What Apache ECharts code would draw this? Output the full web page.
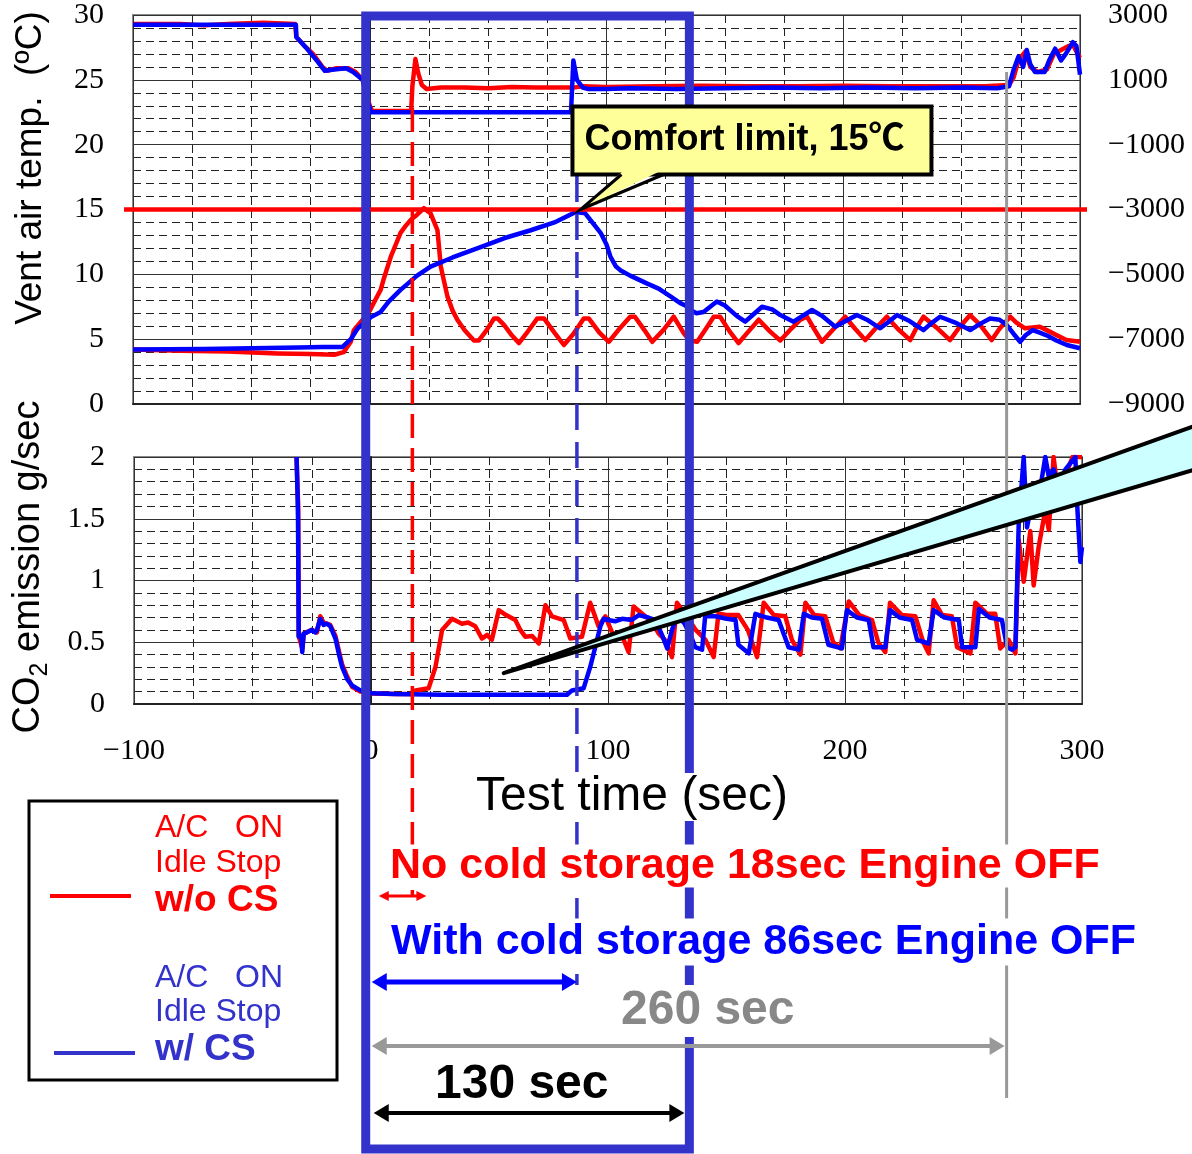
<!DOCTYPE html>
<html><head><meta charset="utf-8">
<script src="https://cdn.jsdelivr.net/npm/echarts@6/dist/echarts.min.js"></script>
<style>html,body{margin:0;padding:0;background:#fff}#c{width:1192px;height:1154px}</style>
</head><body><div id="c"></div>
<script>
// ---------- data (time sec, value) ----------
const tempAxisTicks = [0, 5, 10, 15, 20, 25, 30];
const rightAxisTicks = [-9000, -7000, -5000, -3000, -1000, 1000, 3000];
const co2AxisTicks = [0, 0.5, 1, 1.5, 2];
const timeTicks = [-100, 0, 100, 200, 300];

const upperRed = [[-100,29.3],[-80,29.3],[-70,29.2],[-60,29.3],[-45,29.4],[-31.5,29.3],[-31,28.3],[-28,27.7],[-24,27.0],[-20,26.0],[-18,25.7],[-14,25.9],[-9,25.9],[-6,25.6],[-3,25.0],[-1.5,24.0],[0,23.0],[1,22.6],[17.5,22.6],[18,24.5],[19.3,26.6],[20.5,25.5],[22,24.6],[24,24.3],[30,24.4],[40,24.4],[50,24.35],[60,24.45],[70,24.4],[86,24.4],[90,24.5],[100,24.45],[120,24.5],[140,24.55],[160,24.5],[180,24.5],[200,24.55],[220,24.5],[240,24.5],[260,24.5],[270,24.6],[272,25.2],[274,26.5],[277,27.2],[279,26.0],[282,25.6],[286,25.8],[289,27.0],[292,27.3],[295,27.6],[297,27.7],[299,27.0],[300,26.7]];
const upperBlue = [[-100,29.25],[-31.2,29.25],[-31,28.3],[-27,27.5],[-22,26.4],[-19,25.7],[-15,25.8],[-10,25.9],[-7,25.6],[-3,25.0],[-1,23.5],[0.5,22.5],[85,22.5],[85.5,24.5],[86,26.5],[87.5,25.0],[90,24.4],[92,24.3],[100,24.3],[110,24.35],[130,24.3],[150,24.35],[170,24.4],[190,24.35],[210,24.4],[230,24.35],[250,24.4],[265,24.35],[270,24.5],[272,25.8],[274,26.8],[276,26.0],[277.5,27.3],[279,26.2],[281,25.6],[285,25.6],[287,26.5],[289.5,27.4],[292,26.5],[294,27.0],[297,27.9],[298.5,27.6],[300,25.4]];
const ventBlue = [[-100,4.2],[-70,4.25],[-50,4.3],[-30,4.35],[-20,4.4],[-11.5,4.4],[-8,5.0],[-5,5.85],[-2,6.3],[0.5,6.7],[4.6,7.1],[8,7.9],[13,8.8],[20,9.9],[25.7,10.6],[35,11.3],[46.8,12.1],[57,12.8],[68,13.4],[78,14.0],[87,14.8],[91,14.7],[94,14.0],[97.5,13.2],[100,12.3],[101.7,11.35],[104,10.6],[106,10.3],[110,9.9],[117,9.3],[122,8.9],[127,8.3],[131,7.8],[133.3,7.6],[136,7.2],[138,7.0],[141,7.1],[146.6,7.9],[150,7.6],[155,6.8],[158.6,6.35],[162,6.9],[165.7,7.5],[170,7.3],[173.4,6.86],[179,6.35],[182,6.7],[186.8,7.25],[191,6.8],[196.6,5.96],[201,6.4],[205.8,6.86],[210,6.5],[215.6,5.84],[219,6.3],[222.7,6.86],[228,6.4],[233.9,5.7],[237,6.2],[240.9,6.73],[247,6.3],[253.6,5.7],[258,6.2],[262,6.6],[266,6.5],[269,6.1],[272,5.4],[274.7,4.8],[277,5.3],[280,5.7],[283,5.5],[285.9,5.3],[290,4.9],[294.4,4.55],[300,4.3]];
const ventRed = [[-100,4.2],[-80,4.1],[-60,4.05],[-38.9,3.9],[-25,3.85],[-15,3.8],[-11,4.0],[-8,4.8],[-6.7,5.7],[-3,6.5],[0,7.2],[2,7.9],[4.6,8.8],[6,9.7],[8.9,11.36],[11,12.3],[13,13.2],[15,13.7],[17.3,14.2],[20,14.6],[22.9,15.1],[25.7,14.7],[28.6,13.4],[30,10.6],[32.8,8.3],[35,7.2],[37,6.5],[40,5.7],[44,4.9],[46.1,4.9],[49,5.6],[52.5,6.6],[54,6.6],[56.7,6.1],[60,5.3],[63,4.7],[66,5.4],[70.8,6.6],[73.6,6.6],[78,5.5],[82,4.55],[86,5.4],[90.4,6.6],[92.5,6.6],[97,5.5],[101,4.8],[105,5.7],[110,6.73],[112,6.73],[116,5.7],[119.3,4.8],[124,5.7],[128.4,6.73],[132.6,5.47],[135,4.9],[138.3,4.8],[142,5.8],[145.3,6.73],[148,6.73],[152,5.6],[155.8,4.7],[160,5.6],[164.3,6.5],[169,5.6],[173.4,4.9],[178,5.8],[181.9,6.5],[184.7,6.73],[188,5.7],[191,4.8],[196,5.8],[200.8,6.73],[205,5.8],[209.3,4.93],[214,5.9],[218.4,6.73],[223,5.8],[228.3,4.93],[231,5.9],[233.9,6.73],[240,5.8],[245.1,4.93],[249,5.9],[253.6,6.86],[257.8,6.1],[262.7,4.93],[266,5.8],[270.5,6.73],[273,6.3],[276.8,5.84],[280,5.9],[283,5.96],[287,5.6],[290,5.32],[294.3,4.93],[300,4.8]];
const co2Blue = [[-31.4,2.0],[-31,1.7],[-30.8,1.5],[-30.5,0.545],[-29.5,0.55],[-29,0.42],[-28.4,0.57],[-27,0.58],[-25,0.6],[-23.5,0.58],[-22.8,0.6],[-21.4,0.69],[-20,0.64],[-18.5,0.65],[-17.2,0.63],[-15,0.53],[-13.5,0.4],[-12.2,0.3],[-10,0.2],[-8,0.15],[-4.5,0.11],[0.4,0.087],[10,0.08],[30,0.075],[50,0.075],[70,0.075],[82.7,0.075],[84.8,0.11],[89.7,0.127],[92.5,0.30],[94.6,0.46],[96.8,0.63],[98.2,0.69],[100,0.68],[103,0.67],[106,0.69],[110,0.68],[113,0.72],[117,0.70],[120,0.68],[123,0.55],[125,0.45],[127,0.6],[129,0.7],[132,0.66],[135,0.55],[136.8,0.46],[139.7,0.44],[141,0.71],[145.3,0.71],[150,0.69],[153.8,0.68],[155,0.48],[159.4,0.41],[162.2,0.73],[167,0.7],[172,0.68],[176.2,0.46],[180.5,0.44],[182.6,0.73],[186,0.7],[190.3,0.69],[193,0.48],[198.7,0.45],[200.8,0.76],[205,0.7],[210,0.68],[212,0.46],[217,0.46],[219,0.76],[223,0.7],[228.3,0.68],[230.4,0.52],[235.3,0.49],[237.4,0.76],[242,0.7],[248,0.68],[249.4,0.46],[255,0.46],[256.5,0.77],[261,0.7],[266.2,0.68],[268.4,0.46],[270.5,0.44],[271.9,0.46],[273.3,1.46],[275.4,2.0],[276.8,1.43],[278.5,1.6],[280.3,1.57],[282,1.7],[284.5,2.0],[286,1.84],[288,1.9],[290,1.76],[293,1.9],[297.2,2.0],[298,1.6],[299.3,1.15],[300,1.27]];
const co2Red = [[-31.4,2.0],[-31,1.75],[-30.7,1.6],[-30.5,0.55],[-29,0.45],[-28.4,0.57],[-25,0.6],[-22.8,0.58],[-21.4,0.71],[-20,0.66],[-17.2,0.64],[-15,0.55],[-12.2,0.32],[-10,0.22],[-8,0.14],[-4.5,0.1],[0.4,0.085],[10,0.08],[18,0.08],[18.7,0.11],[24.3,0.127],[27.2,0.30],[30,0.6],[34.2,0.69],[38.4,0.65],[41,0.66],[44,0.63],[46.8,0.53],[49,0.56],[51,0.52],[53.9,0.76],[57,0.72],[60.9,0.68],[63,0.6],[65.1,0.545],[68,0.55],[70.8,0.49],[73.6,0.80],[76.4,0.71],[81.3,0.68],[84.1,0.53],[89,0.545],[92.5,0.82],[96,0.63],[98.9,0.71],[103,0.52],[106,0.55],[108.7,0.42],[110.8,0.79],[115.7,0.71],[118,0.68],[121.4,0.57],[124,0.52],[127,0.38],[129.1,0.82],[132.6,0.73],[137,0.6],[141.1,0.52],[144.6,0.38],[146.6,0.73],[150,0.72],[155,0.72],[159,0.6],[162.9,0.38],[165.7,0.82],[170,0.72],[174.8,0.71],[177.6,0.52],[181.2,0.40],[183.3,0.82],[187,0.72],[191.7,0.71],[195,0.5],[198,0.45],[201.6,0.83],[206,0.72],[211.4,0.68],[214,0.5],[217,0.42],[219,0.82],[224,0.72],[229.7,0.71],[233,0.5],[235.3,0.41],[237.4,0.84],[241,0.72],[245.1,0.71],[247.3,0.46],[252.9,0.41],[255,0.82],[260,0.73],[263.4,0.73],[265.5,0.45],[269,0.52],[271.9,0.41],[273.3,1.33],[275.4,0.99],[278.2,1.40],[279.6,0.96],[281.7,1.27],[284.5,1.57],[286,1.41],[288,2.0],[290,1.7],[293,1.85],[296,2.0],[300,2.0]];

// annotation anchors (data units)
const comfortLimit = 15;
const noCsOffEnd = 18;
const csOffEnd = 87.5;
const boxStart = -1.7, boxEnd = 135;
const restartTime = 269;
const calloutTip = [89, 15];
const wedgeTip = [56, 0.25];

// ---------- chart ----------
const RED = '#FF0000', BLUE = '#0000FF', BOXBLUE = '#3333CC', GRAY = '#999999';
const SANS = '"Liberation Sans", "Noto Sans CJK JP", sans-serif';
const SERIF = '"Liberation Serif", serif';
const minus = v => String(v).replace('-', '\u2212');
const labelStyle = {fontFamily: SERIF, fontSize: 30, color: '#000', formatter: minus};

function xAxisCfg(gi, showLabel) {
  return {
    type: 'value', gridIndex: gi, min: timeTicks[0], max: timeTicks[timeTicks.length-1], interval: 100,
    axisLine: {show: true, onZero: false, lineStyle: {color: '#222', width: 2}},
    axisTick: {show: false},
    axisLabel: Object.assign({show: showLabel, margin: 32}, labelStyle),
    splitLine: {show: true, lineStyle: {color: '#333', width: 1}},
    minorTick: {show: false, splitNumber: 4},
    minorSplitLine: {show: true, lineStyle: {color: '#222', width: 1, type: [8, 5]}}
  };
}
function yAxisCfg(gi, ticks, interval, minorN) {
  return {
    type: 'value', gridIndex: gi, min: ticks[0], max: ticks[ticks.length-1], interval: interval,
    axisLine: {show: true, lineStyle: {color: '#222', width: 2}},
    axisTick: {show: false},
    axisLabel: Object.assign({margin: 29, padding: [6, 0, 0, 0]}, labelStyle),
    splitLine: {show: true, lineStyle: {color: '#333', width: 1}},
    minorTick: {show: false, splitNumber: minorN},
    minorSplitLine: {show: true, lineStyle: {color: '#222', width: 1, type: [8, 5]}}
  };
}
function lineSeries(name, data, color, xi, yi) {
  return {name, type: 'line', data, xAxisIndex: xi, yAxisIndex: yi, symbol: 'none',
    lineStyle: {color, width: 4.5, join: 'round'}, itemStyle: {color}, animation: false, z: 3};
}

const chart = echarts.init(document.getElementById('c'));
chart.setOption({
  animation: false,
  backgroundColor: '#fff',
  grid: [
    {left: 133, top: 15, width: 947, height: 389, show: true, borderColor: '#888', borderWidth: 2},
    {left: 134, top: 457, width: 948, height: 247, show: true, borderColor: '#888', borderWidth: 2}
  ],
  xAxis: [xAxisCfg(0, false), xAxisCfg(1, true)],
  yAxis: [
    yAxisCfg(0, tempAxisTicks, 5, 5),
    yAxisCfg(1, co2AxisTicks, 0.5, 5),
    {type: 'value', gridIndex: 0, position: 'right', min: rightAxisTicks[0], max: rightAxisTicks[rightAxisTicks.length-1], interval: 2000,
     axisLine: {show: false}, axisTick: {show: false}, splitLine: {show: false},
     axisLabel: Object.assign({margin: 28, padding: [6, 0, 0, 0]}, labelStyle)}
  ],
  series: [
    lineSeries('upper w/o CS', upperRed, RED, 0, 0),
    lineSeries('vent w/o CS', ventRed, RED, 0, 0),
    lineSeries('upper w/ CS', upperBlue, BLUE, 0, 0),
    lineSeries('vent w/ CS', ventBlue, BLUE, 0, 0),
    lineSeries('CO2 w/o CS', co2Red, RED, 1, 1),
    lineSeries('CO2 w/ CS', co2Blue, BLUE, 1, 1)
  ]
});

const P0 = (x, y) => chart.convertToPixel({xAxisIndex: 0, yAxisIndex: 0}, [x, y]);
const P1 = (x, y) => chart.convertToPixel({xAxisIndex: 1, yAxisIndex: 1}, [x, y]);

const g = [];
function line(x1, y1, x2, y2, color, w, dash, z) {
  g.push({type: 'line', z: z || 10, shape: {x1, y1, x2, y2}, style: {stroke: color, lineWidth: w, lineDash: dash || null}});
}
function text(str, x, y, font, color, bg, z, pad) {
  g.push({type: 'text', z: z || 20, x: x, y: y,
    style: {text: str, font: font, fill: color, align: 'left', verticalAlign: 'middle',
      backgroundColor: bg ? '#fff' : null, padding: pad || (bg ? [4, 6] : 0)}});
}
function arrow(x1, x2, y, color, w, hl, hw, z) {
  line(x1 + hl * 0.7, y, x2 - hl * 0.7, y, color, w, null, z);
  g.push({type: 'polygon', z: z || 10, shape: {points: [[x1, y], [x1 + hl, y - hw], [x1 + hl, y + hw]]}, style: {fill: color}});
  g.push({type: 'polygon', z: z || 10, shape: {points: [[x2, y], [x2 - hl, y - hw], [x2 - hl, y + hw]]}, style: {fill: color}});
}

// comfort limit line
const yC = P0(0, comfortLimit)[1];
line(P0(-100, 0)[0] - 9, yC, P0(300, 0)[0] + 7, yC, RED, 4.5, null, 8);

// vertical markers
const xRed = P0(noCsOffEnd, 0)[0], xBlue = P0(csOffEnd, 0)[0], xGray = P0(restartTime, 0)[0];
const xB0 = P0(boxStart, 0)[0], xB1 = P0(boxEnd, 0)[0];
line(xGray, 72, xGray, 1098, GRAY, 3, null, 9);
line(xRed, 108, xRed, 896, RED, 3.5, [24, 10], 9);
line(xBlue, 176, xBlue, 985, BOXBLUE, 3.5, [26, 12], 9);
g.push({type: 'rect', z: 11, shape: {x: xB0, y: 16, width: xB1 - xB0, height: 1133}, style: {fill: 'none', stroke: BOXBLUE, lineWidth: 9}});

// arrows
arrow(xB0 + 13, xRed + 14, 896, RED, 3, 10, 5, 21);
arrow(xB0 + 6, xBlue, 982, BLUE, 5, 15, 9, 21);
arrow(xB0 + 6, xGray - 2, 1046, GRAY, 4, 15, 9, 12);
arrow(xB0 + 8, xB1 - 5, 1113, '#000', 4, 15, 9, 12);

// texts with white background
text('Test time (sec)', 470, 797, '48px ' + SANS, '#000', true, 20, [0, 6]);
text('No cold storage 18sec Engine OFF', 384, 866, 'bold 43px ' + SANS, RED, true, 20, [0, 6]);
text('With cold storage 86sec Engine OFF', 385, 942, 'bold 43px ' + SANS, BLUE, true, 20, [2, 6]);
text('260 sec', 615, 1011, 'bold 48px ' + SANS, '#888', true, 20, [2, 6]);
text('130 sec', 435, 1085, 'bold 48px ' + SANS, '#000', false, 20);

// legend box
g.push({type: 'rect', z: 20, shape: {x: 29, y: 801, width: 308, height: 279}, style: {fill: '#fff', stroke: '#000', lineWidth: 3}});
line(50, 896, 131, 896, RED, 4, null, 21);
line(54, 1053, 135, 1053, BOXBLUE, 4, null, 21);
text('A/C\u00A0\u00A0\u00A0ON', 155, 828, '32px ' + SANS, RED, false, 21);
text('Idle Stop', 155, 863, '32px ' + SANS, RED, false, 21);
text('w/o CS', 155, 901, 'bold 37px ' + SANS, RED, false, 21);
text('A/C\u00A0\u00A0\u00A0ON', 155, 978, '32px ' + SANS, BOXBLUE, false, 21);
text('Idle Stop', 155, 1012, '32px ' + SANS, BOXBLUE, false, 21);
text('w/ CS', 155, 1050, 'bold 37px ' + SANS, BOXBLUE, false, 21);

// axis titles
g.push({type: 'text', z: 20, x: 31, y: 168, rotation: Math.PI / 2,
  style: {text: 'Vent air temp.\u00A0\u00A0(\u00BAC)', font: '37px ' + SANS, fill: '#000', align: 'center', verticalAlign: 'middle'}});
g.push({type: 'text', z: 20, x: 29, y: 567, rotation: Math.PI / 2,
  style: {text: '{a|CO}{s|2}{a| emission g/sec}', align: 'center', verticalAlign: 'middle',
    rich: {a: {fontFamily: SANS, fontSize: 38, fill: '#000', color: '#000'},
           s: {fontFamily: SANS, fontSize: 25, fill: '#000', color: '#000', padding: [22, 0, 0, 0]}}}});

// callout
const tip = P0(calloutTip[0], calloutTip[1]);
const tx = tip[0], ty = tip[1];
g.push({type: 'rect', z: 30, shape: {x: tx - 8, y: ty - 103, width: 359, height: 68}, style: {fill: '#FFFF99', stroke: '#000', lineWidth: 4}});
g.push({type: 'polygon', z: 31, shape: {points: [[tx + 43, ty - 39], [tx + 81, ty - 39], [tx, ty]]}, style: {fill: '#FFFF99'}});
g.push({type: 'polyline', z: 31, shape: {points: [[tx + 41, ty - 35], [tx, ty], [tx + 83, ty - 35]]}, style: {stroke: '#000', lineWidth: 3, fill: null}});
text('Comfort limit, 15\u2103', tx + 4, ty - 69, 'bold 36px ' + SANS, '#000', false, 32);

// wedge
const wt = P1(wedgeTip[0], wedgeTip[1]);
g.push({type: 'polygon', z: 40, shape: {points: [wt, [1200, 424], [1200, 468]]}, style: {fill: '#CCFFFF', stroke: '#000', lineWidth: 4, lineJoin: 'round'}});

chart.setOption({graphic: {elements: g}});
</script></body></html>
